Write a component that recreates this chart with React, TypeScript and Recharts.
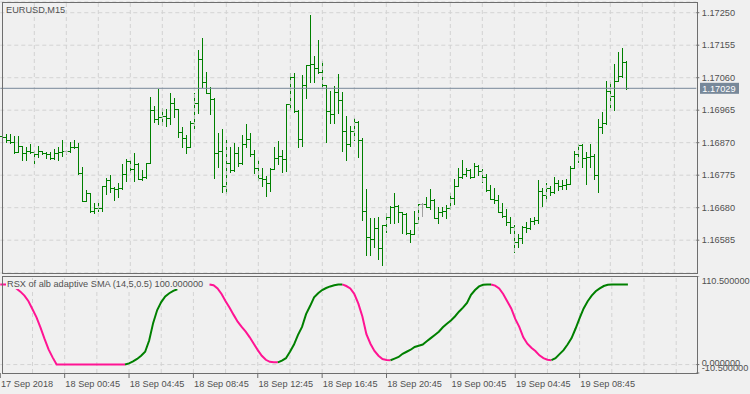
import React from 'react';
import { ComposedChart, Bar, Line, XAxis, YAxis, CartesianGrid, ReferenceLine } from 'recharts';

const openPrices = [
  1.16890,1.16887,1.16877,1.16871,1.16842,1.16860,1.16839,1.16847,1.16844,1.16837,
  1.16845,1.16840,1.16838,1.16826,1.16839,1.16842,1.16845,1.16845,1.16858,1.16856,
  1.16781,1.16701,1.16722,1.16671,1.16678,1.16680,1.16742,1.16761,1.16738,1.16734,
  1.16737,1.16779,1.16817,1.16794,1.16807,1.16763,1.16770,1.16810,1.16966,1.16939,
  1.16944,1.16947,1.16942,1.16985,1.16969,1.16902,1.16884,1.16858,1.16927,1.16985,
  1.17114,1.17047,1.17016,1.16997,1.16839,1.16847,1.16744,1.16810,1.16790,1.16839,
  1.16810,1.16866,1.16880,1.16837,1.16795,1.16766,1.16763,1.16753,1.16792,1.16825,
  1.16831,1.16823,1.16983,1.17061,1.16963,1.16880,1.17039,1.17097,1.17100,1.17088,
  1.17078,1.17039,1.16963,1.16954,1.17018,1.16995,1.16904,1.16866,1.16905,1.16930,
  1.16878,1.16671,1.16595,1.16588,1.16622,1.16562,1.16628,1.16654,1.16683,1.16686,
  1.16667,1.16661,1.16605,1.16603,1.16636,1.16691,1.16691,1.16683,1.16703,1.16649,
  1.16668,1.16671,1.16678,1.16708,1.16744,1.16769,1.16778,1.16790,1.16771,1.16802,
  1.16788,1.16771,1.16732,1.16705,1.16703,1.16668,1.16656,1.16638,1.16625,1.16579,
  1.16591,1.16625,1.16622,1.16642,1.16645,1.16729,1.16717,1.16739,1.16727,1.16752,
  1.16744,1.16746,1.16750,1.16795,1.16836,1.16864,1.16826,1.16829,1.16832,1.16776,
  1.16917,1.16927,1.17022,1.17007,1.17051,1.17065,1.17106,
];

const highPrices = [
  1.16893,1.16896,1.16896,1.16889,1.16889,1.16861,1.16857,1.16866,1.16847,1.16861,
  1.16847,1.16844,1.16844,1.16852,1.16857,1.16878,1.16849,1.16873,1.16878,1.16868,
  1.16800,1.16732,1.16724,1.16695,1.16695,1.16742,1.16766,1.16776,1.16740,1.16752,
  1.16808,1.16822,1.16818,1.16841,1.16812,1.16790,1.16812,1.17003,1.16977,1.17026,
  1.16971,1.16968,1.17016,1.17000,1.16969,1.16917,1.16893,1.16932,1.17015,1.17141,
  1.17175,1.17078,1.17032,1.17000,1.16898,1.16909,1.16878,1.16858,1.16868,1.16858,
  1.16893,1.16925,1.16899,1.16849,1.16820,1.16797,1.16773,1.16795,1.16858,1.16876,
  1.16849,1.16983,1.17075,1.17075,1.16966,1.17068,1.17097,1.17243,1.17124,1.17170,
  1.17110,1.17039,1.17022,1.17036,1.17071,1.17019,1.16948,1.16919,1.16943,1.16932,
  1.16885,1.16735,1.16651,1.16651,1.16654,1.16630,1.16664,1.16686,1.16722,1.16688,
  1.16668,1.16664,1.16615,1.16671,1.16691,1.16695,1.16712,1.16734,1.16705,1.16683,
  1.16683,1.16688,1.16722,1.16764,1.16797,1.16820,1.16795,1.16792,1.16810,1.16805,
  1.16793,1.16779,1.16746,1.16739,1.16717,1.16695,1.16675,1.16652,1.16630,1.16603,
  1.16627,1.16639,1.16649,1.16652,1.16761,1.16739,1.16752,1.16744,1.16769,1.16761,
  1.16761,1.16763,1.16802,1.16847,1.16866,1.16866,1.16842,1.16866,1.16837,1.16939,
  1.16959,1.17049,1.17046,1.17100,1.17136,1.17146,1.17109,
];

const lowPrices = [
  1.16881,1.16873,1.16868,1.16839,1.16842,1.16820,1.16820,1.16839,1.16812,1.16829,
  1.16837,1.16826,1.16823,1.16823,1.16820,1.16832,1.16836,1.16842,1.16854,1.16779,
  1.16699,1.16699,1.16668,1.16664,1.16671,1.16671,1.16719,1.16727,1.16703,1.16712,
  1.16734,1.16759,1.16785,1.16759,1.16763,1.16761,1.16766,1.16810,1.16931,1.16925,
  1.16922,1.16919,1.16925,1.16946,1.16888,1.16858,1.16841,1.16858,1.16912,1.16958,
  1.17032,1.17016,1.16953,1.16768,1.16800,1.16727,1.16722,1.16783,1.16788,1.16803,
  1.16808,1.16858,1.16831,1.16781,1.16761,1.16742,1.16715,1.16730,1.16792,1.16807,
  1.16785,1.16788,1.16968,1.16961,1.16857,1.16861,1.17000,1.17046,1.17046,1.17073,
  1.17029,1.16873,1.16927,1.16927,1.16956,1.16847,1.16818,1.16861,1.16878,1.16829,
  1.16644,1.16542,1.16542,1.16566,1.16529,1.16513,1.16610,1.16635,1.16635,1.16639,
  1.16605,1.16602,1.16581,1.16602,1.16636,1.16657,1.16683,1.16675,1.16649,1.16635,
  1.16657,1.16651,1.16676,1.16690,1.16744,1.16766,1.16773,1.16768,1.16771,1.16776,
  1.16756,1.16729,1.16705,1.16695,1.16666,1.16652,1.16630,1.16605,1.16550,1.16566,
  1.16578,1.16610,1.16618,1.16632,1.16635,1.16686,1.16701,1.16717,1.16722,1.16732,
  1.16735,1.16735,1.16750,1.16795,1.16815,1.16798,1.16749,1.16798,1.16764,1.16727,
  1.16899,1.16925,1.16975,1.16966,1.17049,1.17063,1.17026,
];

const closePrices = [
  1.16887,1.16877,1.16871,1.16842,1.16860,1.16839,1.16847,1.16844,1.16837,1.16845,
  1.16840,1.16838,1.16826,1.16839,1.16842,1.16845,1.16845,1.16858,1.16856,1.16781,
  1.16701,1.16722,1.16671,1.16678,1.16680,1.16742,1.16761,1.16738,1.16734,1.16737,
  1.16779,1.16817,1.16794,1.16807,1.16763,1.16770,1.16810,1.16966,1.16939,1.16944,
  1.16947,1.16942,1.16985,1.16969,1.16902,1.16884,1.16858,1.16927,1.16985,1.17114,
  1.17047,1.17016,1.16997,1.16839,1.16847,1.16744,1.16810,1.16790,1.16839,1.16810,
  1.16866,1.16880,1.16837,1.16795,1.16766,1.16763,1.16753,1.16792,1.16825,1.16831,
  1.16823,1.16983,1.17061,1.16963,1.16880,1.17039,1.17097,1.17100,1.17088,1.17078,
  1.17039,1.16963,1.16954,1.17018,1.16995,1.16904,1.16866,1.16905,1.16930,1.16878,
  1.16671,1.16595,1.16588,1.16622,1.16562,1.16628,1.16654,1.16683,1.16686,1.16667,
  1.16661,1.16605,1.16603,1.16636,1.16691,1.16691,1.16683,1.16703,1.16649,1.16668,
  1.16671,1.16678,1.16708,1.16744,1.16769,1.16778,1.16790,1.16771,1.16802,1.16788,
  1.16771,1.16732,1.16705,1.16703,1.16668,1.16656,1.16638,1.16625,1.16579,1.16591,
  1.16625,1.16622,1.16642,1.16645,1.16729,1.16717,1.16739,1.16727,1.16752,1.16744,
  1.16746,1.16750,1.16795,1.16836,1.16864,1.16826,1.16829,1.16832,1.16776,1.16917,
  1.16927,1.17022,1.17007,1.17051,1.17065,1.17106,1.17029,
];

const rsxValues: (number | null)[] = [
  100,100,100,99.5,95,91,86,79,69,59,
  46,32,19,9,0,0,0,0,0,0,
  0,0,0,0,0,0,0,0,0,0,
  0,0,1.5,4,7,11,16,30,52,68,
  78,85,89,92,94,null,null,null,null,null,
  null,null,100,99,95,88,79,71,62,53.5,
  47,41,34,26,18,11,6,3.5,3,2.8,
  5,8,16,25,37,47,63,73,84,89,
  93,95.5,97.5,99,100,100,98,95,88,76,
  60,38,26,17,11,7,5.7,5.4,7.5,9.5,
  13.5,16,18.5,22,23.5,25,29,33,37,41,
  46.5,51,55,60,66,71,77,87,93,97.5,
  99.5,100,100,98.5,95,88,79,70,57,47,
  34,26,21,17,11.5,8,6,5.5,8,13,
  18,25,33,45,58,70,79,86,91.5,95,
  98,99.5,100,100,100,100,100,
];

const priceTicks = [1.16585, 1.1668, 1.16775, 1.1687, 1.16965, 1.1706, 1.17155, 1.1725];
const rsxTicks = [-10.5, 0, 110.5];
const timeTickIdx = [0, 16, 32, 48, 64, 80, 96, 112, 128, 144];
const timeTickLabels = [
  '17 Sep 2018', '18 Sep 00:45', '18 Sep 04:45', '18 Sep 08:45', '18 Sep 12:45',
  '18 Sep 16:45', '18 Sep 20:45', '19 Sep 00:45', '19 Sep 04:45', '19 Sep 08:45',
];
const gridIdx = [8,16,24,32,40,48,56,64,72,80,88,96,104,112,120,128,136,144,152,160,168];
const currentPrice = 1.17029;
const symbolTitle = 'EURUSD,M15';
const indicatorTitle = 'RSX of alb adaptive SMA (14,5,0.5) 100.000000';
const SLOTS = 174;

const FONT = '"Liberation Sans", Arial, sans-serif';
const FS = 9.2;
const TXT = '#505050';
const BORDER = '#6e6e6e';
const GRID = '#d3d3d3';
const BG = '#f0f0f0';
const GREEN = '#008000';
const PINK = '#ff1493';

// segment colouring of the indicator (falling = pink, rising = green)
const segDir: (string | null)[] = [];
{
  let last = 'down';
  for (let i = 0; i < rsxValues.length - 1; i++) {
    const a = rsxValues[i];
    const b = rsxValues[i + 1];
    if (a == null || b == null) { segDir.push(null); continue; }
    if (b > a) last = 'up';
    else if (b < a) last = 'down';
    segDir.push(last);
  }
}

const rows = Array.from({ length: SLOTS }, (_, i) => {
  if (i >= closePrices.length) return { i };
  const v = rsxValues[i];
  const isUp = segDir[i - 1] === 'up' || segDir[i] === 'up';
  const isDown = segDir[i - 1] === 'down' || segDir[i] === 'down';
  return {
    i,
    open: openPrices[i],
    high: highPrices[i],
    low: lowPrices[i],
    close: closePrices[i],
    range: [lowPrices[i], highPrices[i]],
    up: v != null && isUp ? v : null,
    down: v != null && isDown ? v : null,
  };
});

const OhlcShape = (props: any) => {
  const { x, y, width, height, payload } = props;
  if (!payload || payload.high == null) return null;
  const top = Math.min(y, y + height);
  const bot = Math.max(y, y + height);
  const span = payload.high - payload.low || 1;
  const py = (v: number) => top + ((payload.high - v) / span) * (bot - top);
  const cx = x + width / 2;
  const col = Math.floor(cx);
  const color = payload.open === payload.close ? '#a0a0a0' : GREEN;
  const t = Math.round(top);
  const b = Math.round(bot);
  return (
    <g fill={color}>
      <rect x={col} y={t} width={1} height={Math.max(1, b - t + 1)} />
      <rect x={col - 2} y={Math.round(py(payload.open))} width={2} height={1} />
      <rect x={col + 1} y={Math.round(py(payload.close))} width={2} height={1} />
    </g>
  );
};

const PriceLabel = (props: any) => {
  const vb = props.viewBox || {};
  const yy = vb.y || 0;
  const xr = (vb.x || 0) + (vb.width || 0);
  return (
    <g>
      <rect x={xr + 3.7} y={yy - 5.5} width={39} height={11} fill="#778899" />
      <text x={xr + 6} y={yy} dy="0.355em" fill="#ffffff" fontSize={FS} fontFamily={FONT}>
        {currentPrice.toFixed(5)}
      </text>
    </g>
  );
};

const TimeTick = (props: any) => {
  const { x, y, payload } = props;
  const k = timeTickIdx.indexOf(payload.value);
  if (k < 0) return null;
  return (
    <text x={x + 0.7} y={y} dy="0.71em" textAnchor="start" fill={TXT} fontSize={FS} fontFamily={FONT}>
      {timeTickLabels[k]}
    </text>
  );
};

const rsxLabelShift: Record<string, number> = { '110.5': 5, '0': -2, '-10.5': -5.5 };
const RsxTick = (props: any) => {
  const { x, y, payload } = props;
  const shift = rsxLabelShift[String(payload.value)] || 0;
  return (
    <text x={x} y={y + shift} dy="0.355em" textAnchor="start" fill={TXT} fontSize={FS} fontFamily={FONT}>
      {Number(payload.value).toFixed(6)}
    </text>
  );
};

export default function App() {
  return (
    <div style={{ position: 'fixed', left: 0, top: 0, width: 750, height: 394, background: BG, overflow: 'hidden', fontFamily: FONT }}>
      <div style={{ position: 'absolute', left: 0, top: 0 }}>
        <ComposedChart width={750} height={275} data={rows} margin={{ top: 2, right: 0, bottom: 2, left: 0.3 }} barCategoryGap={0}>
          <CartesianGrid vertical={false} stroke={GRID} strokeDasharray="4 3" />
          {gridIdx.map((k) => (
            <ReferenceLine key={'g' + k} x={k} stroke={GRID} strokeDasharray="4 3" />
          ))}
          <XAxis dataKey="i" type="category" hide />
          <YAxis
            orientation="right"
            width={53.7}
            type="number"
            domain={[1.164891, 1.172813]}
            allowDataOverflow
            ticks={priceTicks}
            interval={0}
            tickFormatter={(v: number) => v.toFixed(5)}
            tick={{ fill: TXT, fontSize: FS, fontFamily: FONT }}
            tickSize={3}
            tickMargin={2.5}
            tickLine={{ stroke: BORDER }}
            axisLine={false}
          />
          <Bar dataKey="range" shape={OhlcShape} isAnimationActive={false} />
          <ReferenceLine y={currentPrice} stroke="#778899" label={(p: any) => <PriceLabel {...p} />} />
        </ComposedChart>
      </div>
      <div style={{ position: 'absolute', left: 0, top: 276 }}>
        <ComposedChart width={750} height={118} data={rows} margin={{ top: 0, right: 0, bottom: 0, left: 0.3 }}>
          {gridIdx.map((k) => (
            <ReferenceLine key={'s' + k} x={k} stroke={GRID} strokeDasharray="4 3" />
          ))}
          <ReferenceLine y={0} stroke={GRID} strokeDasharray="4 3" />
          <XAxis
            dataKey="i"
            type="category"
            ticks={timeTickIdx}
            interval={0}
            height={21}
            tickSize={5}
            tickLine={{ stroke: BORDER }}
            axisLine={false}
            tick={<TimeTick />}
          />
          <YAxis
            orientation="right"
            width={53.7}
            type="number"
            domain={[-10.5, 110.5]}
            allowDataOverflow
            ticks={rsxTicks}
            interval={0}
            tick={<RsxTick />}
            tickSize={3}
            tickMargin={2.5}
            tickLine={{ stroke: BORDER }}
            axisLine={false}
          />
          <Line dataKey="down" stroke={PINK} strokeWidth={2} dot={false} activeDot={false} connectNulls={false} isAnimationActive={false} />
          <Line dataKey="up" stroke={GREEN} strokeWidth={2} dot={false} activeDot={false} connectNulls={false} isAnimationActive={false} />
        </ComposedChart>
      </div>
      <div style={{ position: 'absolute', left: 2, top: 2, width: 696, height: 272, border: '1px solid ' + BORDER, boxSizing: 'border-box', pointerEvents: 'none' }} />
      <div style={{ position: 'absolute', left: 2, top: 276, width: 696, height: 98, border: '1px solid ' + BORDER, boxSizing: 'border-box', pointerEvents: 'none' }} />
      <div style={{ position: 'absolute', left: 6, top: 4.5, fontSize: FS, lineHeight: '11px', color: TXT, whiteSpace: 'nowrap' }}>{symbolTitle}</div>
      <div style={{ position: 'absolute', left: 6, top: 279.5, fontSize: FS, lineHeight: '9px', height: 9, color: TXT, background: BG, padding: '0 1px', whiteSpace: 'nowrap' }}>{indicatorTitle}</div>
    </div>
  );
}
